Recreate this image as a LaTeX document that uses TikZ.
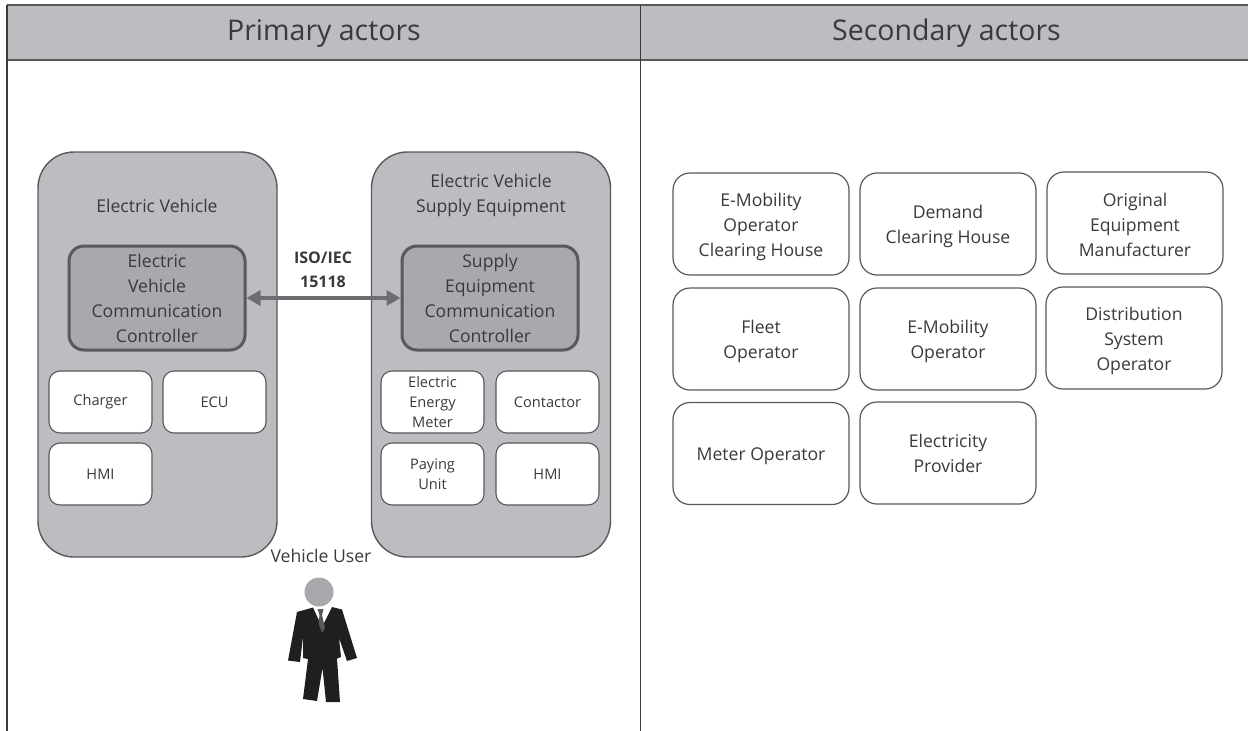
\documentclass[tikz,border=0pt]{standalone}
\usepackage{fontspec}
\setmainfont{Open Sans}
\definecolor{panel}{HTML}{BCBDC0}
\definecolor{ctrl}{HTML}{A7A9AC}
\definecolor{edge}{HTML}{58595B}
\definecolor{arrowc}{HTML}{6D6E71}
\definecolor{ink}{HTML}{3A3A3C}
\usetikzlibrary{arrows.meta}
\newcommand\actortext[2][7pt]{\raisebox{-#1}[0pt][0pt]{\parbox{170pt}{\centering\fontsize{17.6}{25}\selectfont #2}}}
\tikzset{
 x=1pt,y=-1pt,
 every node/.style={text=ink,font=\fontsize{17.6}{25}\selectfont,align=center,inner sep=0pt},
 outerbox/.style={draw=edge,line width=1.4pt,fill=panel,rounded corners=36,minimum width=239,minimum height=405},
 ctrlbox/.style={draw=edge,line width=3pt,fill=ctrl,rounded corners=15,minimum width=176,minimum height=104},
 smallbox/.style={draw=edge,line width=1.1pt,fill=white,rounded corners=11,minimum width=103,minimum height=62,font=\fontsize{14.6}{20}\selectfont},
 actorbox/.style={draw=edge,line width=1.2pt,fill=white,rounded corners=17,minimum width=176,minimum height=102},
 headtext/.style={font=\fontsize{28.5}{32}\selectfont},
 link/.style={draw=arrowc,line width=3.8pt,{Triangle[length=14pt,width=15pt]}-{Triangle[length=14pt,width=15pt]}}
}
\begin{document}
\begin{tikzpicture}
\useasboundingbox (0,0) rectangle (1248,731);
% header band and frame
\fill[panel] (7,5) rectangle (1248,60);
\coordinate (tl) at (7,5); \coordinate (tr) at (1248,5);
\coordinate (ml) at (7,60); \coordinate (mr) at (1248,60);
\coordinate (bl) at (7,731);
\coordinate (ct) at (640.5,5); \coordinate (cb) at (640.5,731);
\draw[edge,line width=1.4pt] (tl)--(tr);
\draw[edge,line width=1.4pt] (ml)--(mr);
\draw[ink,line width=1.4pt] (tl)--(bl);
\draw[ink,line width=1.4pt] (ct)--(cb);
\node[headtext] (hp) at (324,33) {Primary actors};
\node[headtext] (hs) at (946.5,33) {Secondary actors};
% outer groups
\node[outerbox] (ev) at (157.5,354.5) {};
\node[outerbox] (evse) at (491,354.5) {};
\node (evt) at (157,206) {Electric Vehicle};
\node (evset) at (491,195) {Electric Vehicle\\Supply Equipment};
% controllers
\node[ctrlbox] (evcc) at (157,298) {Electric\\Vehicle\\Communication\\Controller};
\node[ctrlbox] (secc) at (490,298) {Supply\\Equipment\\Communication\\Controller};
\draw[link] (evcc.east) -- (secc.west);
\node[font=\fontsize{16}{24}\selectfont\bfseries] (iso) at (323,269.5) {ISO/IEC\\15118};
% small boxes
\node[smallbox] (charger) at (100.5,402) {Charger};
\node[smallbox] (ecu) at (214.5,402) {ECU};
\node[smallbox] (hmia) at (100.5,474) {HMI};
\node[smallbox] (meter) at (432.5,402) {Electric\\Energy\\Meter};
\node[smallbox] (cont) at (547.5,402) {Contactor};
\node[smallbox] (pay) at (432.5,474) {Paying\\Unit};
\node[smallbox] (hmib) at (547.5,474) {HMI};
% secondary actors
\node[actorbox] (a1) at (761,224) {\actortext{E-Mobility\\Operator\\Clearing House}};
\node[actorbox] (a2) at (948,224) {\actortext{Demand\\Clearing House}};
\node[actorbox] (a3) at (1135,223) {\actortext[6pt]{Original\\Equipment\\Manufacturer}};
\node[actorbox] (a4) at (761,339) {\actortext{Fleet\\Operator}};
\node[actorbox] (a5) at (948,339) {\actortext{E-Mobility\\Operator}};
\node[actorbox] (a6) at (1134,338) {\actortext{Distribution\\System\\Operator}};
\node[actorbox] (a7) at (761,453.5) {\actortext{Meter Operator}};
\node[actorbox] (a8) at (948,453) {\actortext[4.5pt]{Electricity\\Provider}};
% vehicle user
\node (user) at (321,556) {Vehicle User};
\fill[ctrl] (319,592) circle (14.5);
\fill[black!88] (297,612) -- (313,607.5) -- (322,627) -- (332,607) -- (342,609.5) -- (357,658) -- (347,661) -- (339,638) -- (341,657) -- (337,658.5) -- (340,702) -- (326,702) -- (322.5,668) -- (317,701) -- (303,699) -- (308,659) -- (303,658) -- (303,637) -- (300,662) -- (288,660.5) -- cycle;
\fill[edge] (317.5,609) -- (323.5,609) -- (322,615) -- (325,628) -- (322,633) -- (318.5,623) -- (319.5,615) -- cycle;
\end{tikzpicture}
\end{document}
